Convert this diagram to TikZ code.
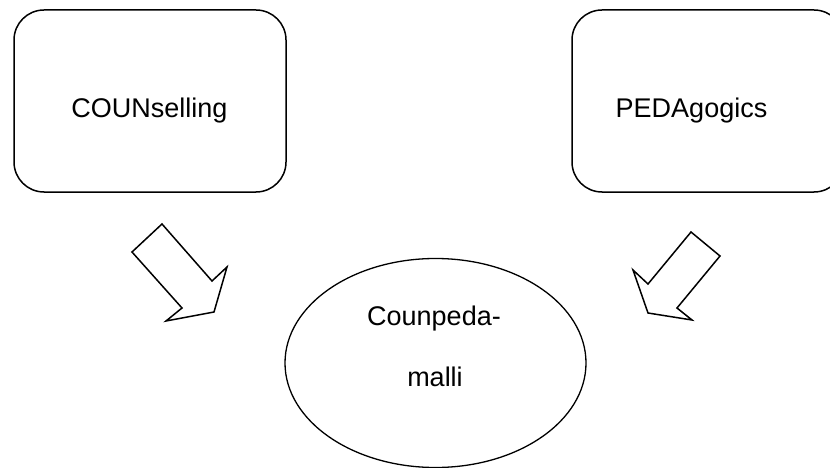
\documentclass[tikz,border=0pt]{standalone}
\usepackage{fontspec}
\setmainfont{Liberation Sans}
\usetikzlibrary{shapes.geometric}
\begin{document}
\begin{tikzpicture}[x=1pt,y=-1pt,
  outline/.style={draw=black,line width=1.5pt,line join=miter},
  roundbox/.style={outline,rectangle,rounded corners=30pt,inner sep=0pt,
    minimum width=272pt,minimum height=182pt},
  oval/.style={outline,ellipse,inner sep=0pt,line width=1.3pt,
    minimum width=301pt,minimum height=209pt},
  blockarrow/.style={outline},
  label/.style={font=\fontsize{27}{32}\selectfont,inner sep=0pt,anchor=base}]
\useasboundingbox (0,0) rectangle (830,468);
\clip (0,0) rectangle (830,468);

% the two source fields
\node[roundbox] (couns) at (150,101) {};
\node[roundbox] (peda) at (708,101) {};
\node[label] (counsText) at (149.5,117.3) {COUNselling};
\node[label] (pedaText) at (691.5,117.3) {PEDAgogics};

% the combined model
\node[oval] (model) at (435.5,363) {};
\node[label] (modelA) at (434,325) {Counpeda-};
\node[label] (modelB) at (435,386) {malli};

% hollow block arrows pointing to the model
\draw[blockarrow] (162,224) -- (212,281) -- (227,267) -- (214,312)
  -- (166,321) -- (182,308) -- (132,252) -- cycle;
\draw[blockarrow] (691,232) -- (720,256) -- (677,308) -- (692,320)
  -- (648,313) -- (633,270) -- (648,284) -- cycle;
\end{tikzpicture}
\end{document}
